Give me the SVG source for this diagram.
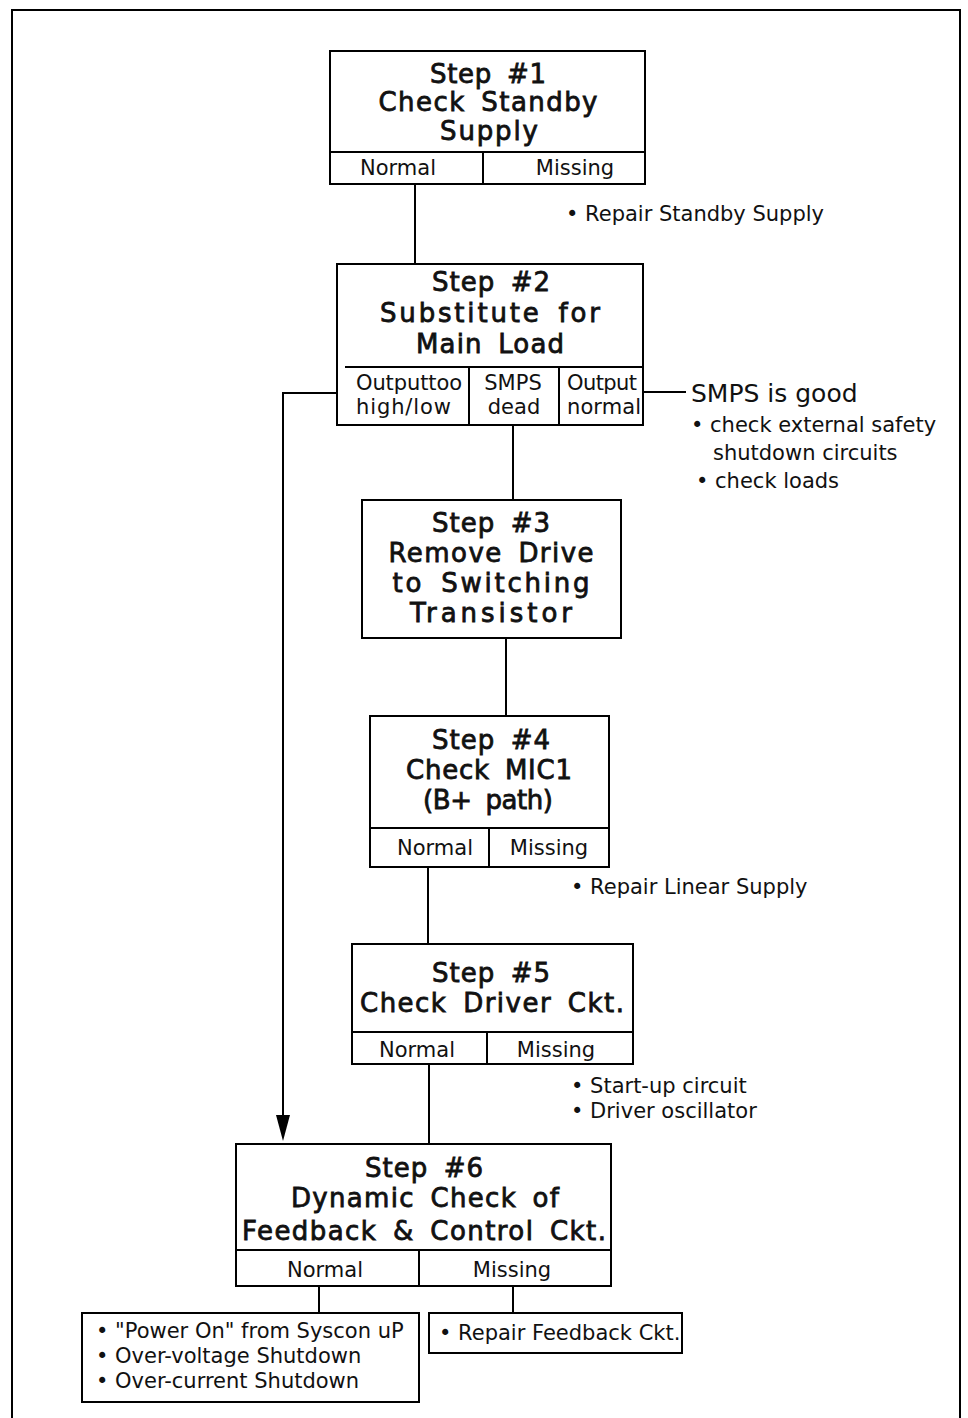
<svg xmlns="http://www.w3.org/2000/svg" width="968" height="1418" viewBox="0 0 968 1418">
<defs>
<style>
.box{fill:none;stroke:#000;stroke-width:2}
.ln{fill:none;stroke:#000;stroke-width:2}
.t{font-family:"DejaVu Sans","Liberation Sans",sans-serif;font-size:26px;font-weight:normal;text-anchor:middle;fill:#111;stroke:#111;stroke-width:0.8;word-spacing:6px}
.s{font-family:"DejaVu Sans","Liberation Sans",sans-serif;font-size:21px;fill:#111}
.c{text-anchor:middle}
</style>
</defs>
<rect width="968" height="1418" fill="#fff"/>
<path class="ln" d="M12,1418 V10 H960 V1418"/>

<g id="connectors">
<line class="ln" x1="415" y1="184" x2="415" y2="264"/>
<line class="ln" x1="513" y1="425" x2="513" y2="500"/>
<line class="ln" x1="506" y1="638" x2="506" y2="716"/>
<line class="ln" x1="428" y1="867" x2="428" y2="944"/>
<line class="ln" x1="429" y1="1064" x2="429" y2="1144"/>
<line class="ln" x1="319" y1="1286" x2="319" y2="1313"/>
<line class="ln" x1="513" y1="1286" x2="513" y2="1313"/>
<line class="ln" x1="643" y1="392" x2="686" y2="392"/>
<path class="ln" d="M337,393 H283 V1118"/>
<polygon points="276,1115 290,1115 283,1141" fill="#000"/>
</g>

<g id="step1">
<rect class="box" x="330" y="51" width="315" height="133"/>
<line class="ln" x1="330" y1="152" x2="645" y2="152"/>
<line class="ln" x1="483" y1="152" x2="483" y2="184"/>
<text class="t" x="488" y="83" textLength="116">Step #1</text>
<text class="t" x="488" y="111" textLength="219">Check Standby</text>
<text class="t" x="489" y="140" textLength="98">Supply</text>
<text class="s c" x="398" y="175">Normal</text>
<text class="s c" x="575" y="175">Missing</text>
</g>
<g id="note1">
<text class="s" x="566" y="221">• Repair Standby Supply</text>
</g>

<g id="step2">
<rect class="box" x="337" y="264" width="306" height="161"/>
<line class="ln" x1="345" y1="367" x2="643" y2="367"/>
<line class="ln" x1="469" y1="367" x2="469" y2="425"/>
<line class="ln" x1="559" y1="367" x2="559" y2="425"/>
<text class="t" x="491" y="291" textLength="118">Step #2</text>
<text class="t" x="490" y="322" textLength="220">Substitute for</text>
<text class="t" x="490" y="353" textLength="148">Main Load</text>
<text class="s" x="356" y="390" textLength="106">Outputtoo</text>
<text class="s" x="356" y="414" textLength="95">high/low</text>
<text class="s c" x="513" y="390">SMPS</text>
<text class="s c" x="514" y="414">dead</text>
<text class="s" x="567" y="390" textLength="70">Output</text>
<text class="s" x="567" y="414" textLength="74">normal</text>
</g>
<g id="note2">
<text class="s" x="691" y="402" style="font-size:25px">SMPS is good</text>
<text class="s" x="691" y="432">• check external safety</text>
<text class="s" x="713" y="460">shutdown circuits</text>
<text class="s" x="696" y="488">• check loads</text>
</g>

<g id="step3">
<rect class="box" x="362" y="500" width="259" height="138"/>
<text class="t" x="491" y="532" textLength="118">Step #3</text>
<text class="t" x="491" y="562" textLength="205">Remove Drive</text>
<text class="t" x="491" y="592" textLength="197">to Switching</text>
<text class="t" x="491" y="622" textLength="162">Transistor</text>
</g>

<g id="step4">
<rect class="box" x="370" y="716" width="239" height="151"/>
<line class="ln" x1="370" y1="828" x2="609" y2="828"/>
<line class="ln" x1="489" y1="828" x2="489" y2="867"/>
<text class="t" x="491" y="749" textLength="118">Step #4</text>
<text class="t" x="489" y="779" textLength="166">Check MIC1</text>
<text class="t" x="488" y="809" textLength="130">(B+ path)</text>
<text class="s c" x="435" y="855">Normal</text>
<text class="s c" x="549" y="855">Missing</text>
</g>
<g id="note4">
<text class="s" x="571" y="894">• Repair Linear Supply</text>
</g>

<g id="step5">
<rect class="box" x="352" y="944" width="281" height="120"/>
<line class="ln" x1="352" y1="1032" x2="633" y2="1032"/>
<line class="ln" x1="487" y1="1032" x2="487" y2="1064"/>
<text class="t" x="491" y="982" textLength="118">Step #5</text>
<text class="t" x="492" y="1012" textLength="264">Check Driver Ckt.</text>
<text class="s c" x="417" y="1057">Normal</text>
<text class="s c" x="556" y="1057">Missing</text>
</g>
<g id="note5">
<text class="s" x="571" y="1093">• Start-up circuit</text>
<text class="s" x="571" y="1118">• Driver oscillator</text>
</g>

<g id="step6">
<rect class="box" x="236" y="1144" width="375" height="142"/>
<line class="ln" x1="236" y1="1250" x2="611" y2="1250"/>
<line class="ln" x1="419" y1="1250" x2="419" y2="1286"/>
<text class="t" x="424" y="1177" textLength="118">Step #6</text>
<text class="t" x="425" y="1207" textLength="268">Dynamic Check of</text>
<text class="t" x="424" y="1240" textLength="364">Feedback &amp; Control Ckt.</text>
<text class="s c" x="325" y="1277">Normal</text>
<text class="s c" x="512" y="1277">Missing</text>
</g>

<g id="result-normal">
<rect class="box" x="82" y="1313" width="337" height="89"/>
<text class="s" x="96" y="1338">• "Power On" from Syscon uP</text>
<text class="s" x="96" y="1363">• Over-voltage Shutdown</text>
<text class="s" x="96" y="1388">• Over-current Shutdown</text>
</g>

<g id="result-missing">
<rect class="box" x="429" y="1313" width="253" height="40"/>
<text class="s" x="439" y="1340">• Repair Feedback Ckt.</text>
</g>
</svg>
